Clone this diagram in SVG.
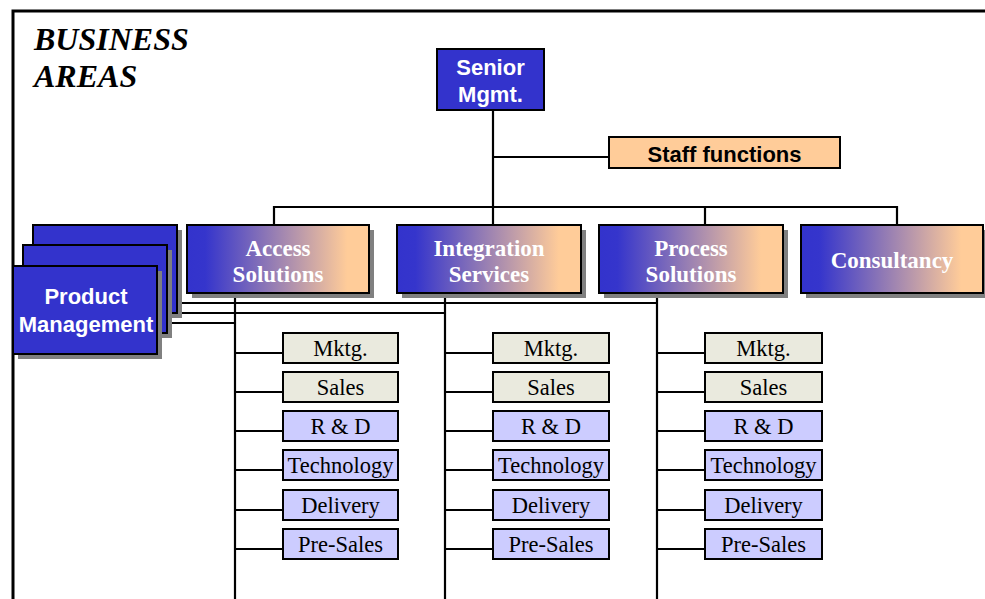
<svg xmlns="http://www.w3.org/2000/svg" width="985" height="599" viewBox="0 0 985 599">
<defs>
<linearGradient id="grad" x1="0" y1="0" x2="1" y2="0">
<stop offset="0" stop-color="#3333CC"/>
<stop offset="0.1" stop-color="#3535CC"/>
<stop offset="0.88" stop-color="#FFCC99"/>
<stop offset="1" stop-color="#FFCC99"/>
</linearGradient>
<style>
.ln{stroke:#000;stroke-width:2.2;fill:none}
.frame{stroke:#000;stroke-width:3;fill:none}
.bx{stroke:#000;stroke-width:2}
.sh{fill:#808080}
.blue{fill:#3333CC}
.gr{fill:url(#grad)}
.beige{fill:#EAEADE}
.lav{fill:#CCCCFF}
.orange{fill:#FFCC99}
.sans{font-family:"Liberation Sans",Arial,sans-serif;font-weight:bold;font-size:22px;text-anchor:middle}
.ser{font-family:"Liberation Serif","Times New Roman",serif;font-size:22.5px;text-anchor:middle;fill:#000}
.serb{font-family:"Liberation Serif","Times New Roman",serif;font-weight:bold;font-size:23px;text-anchor:middle;fill:#fff}
.title{font-family:"Liberation Serif","Times New Roman",serif;font-weight:bold;font-style:italic;font-size:32px;fill:#000}
</style>
</defs>
<rect width="985" height="599" fill="#fff"/>
<g id="frame">
<path class="frame" d="M13,599 V11 H985"/>
</g>
<g id="title">
<text class="title" x="34" y="50">BUSINESS</text>
<text class="title" x="34" y="87">AREAS</text>
</g>
<g id="connectors">
<path class="ln" d="M493,110 V225"/>
<path class="ln" d="M493,157 H609"/>
<path class="ln" d="M274,225 V207 H897 V225"/>
<path class="ln" d="M705,207 V225"/>
<path class="ln" d="M160,303 H657"/>
<path class="ln" d="M160,313 H445"/>
<path class="ln" d="M160,323 H235"/>
<path class="ln" d="M235,293 V599"/>
<path class="ln" d="M445,293 V599"/>
<path class="ln" d="M657,293 V599"/>
<path class="ln" d="M235,353 H283 M235,392 H283 M235,431 H283 M235,470 H283 M235,510 H283 M235,549 H283"/>
<path class="ln" d="M445,353 H493 M445,392 H493 M445,431 H493 M445,470 H493 M445,510 H493 M445,549 H493"/>
<path class="ln" d="M657,353 H705 M657,392 H705 M657,431 H705 M657,470 H705 M657,510 H705 M657,549 H705"/>
</g>
<g id="senior">
<rect class="bx blue" x="437" y="49" width="107" height="61"/>
<text class="sans" x="490.5" y="75" fill="#fff">Senior</text>
<text class="sans" x="490.5" y="102" fill="#fff">Mgmt.</text>
</g>
<g id="staff">
<rect class="bx orange" x="609" y="137" width="231" height="31"/>
<text class="sans" x="724.5" y="162" fill="#000">Staff functions</text>
</g>
<g id="pm-back">
<rect class="sh" x="38" y="230" width="144" height="88"/>
<rect class="bx blue" x="33" y="225" width="144" height="88"/>
</g>
<g id="pm-middle">
<rect class="sh" x="28" y="250" width="144" height="88"/>
<rect class="bx blue" x="23" y="245" width="144" height="88"/>
</g>
<g id="pm-front">
<rect class="sh" x="18" y="271" width="144" height="88"/>
<rect class="bx blue" x="13" y="266" width="144" height="88"/>
<text class="sans" x="86" y="304" fill="#fff">Product</text>
<text class="sans" x="86" y="332" fill="#fff">Management</text>
</g>
<g id="access">
<rect class="sh" x="192" y="230" width="182" height="68"/>
<rect class="bx gr" x="187" y="225" width="182" height="68"/>
<text class="serb" x="278" y="256">Access</text>
<text class="serb" x="278" y="282">Solutions</text>
</g>
<g id="integration">
<rect class="sh" x="402" y="230" width="184" height="68"/>
<rect class="bx gr" x="397" y="225" width="184" height="68"/>
<text class="serb" x="489" y="256">Integration</text>
<text class="serb" x="489" y="282">Services</text>
</g>
<g id="process">
<rect class="sh" x="604" y="230" width="184" height="68"/>
<rect class="bx gr" x="599" y="225" width="184" height="68"/>
<text class="serb" x="691" y="256">Process</text>
<text class="serb" x="691" y="282">Solutions</text>
</g>
<g id="consultancy">
<rect class="sh" x="806" y="230" width="182" height="68"/>
<rect class="bx gr" x="801" y="225" width="182" height="68"/>
<text class="serb" x="892" y="268">Consultancy</text>
</g>
<g id="access-units">
<g id="a-mktg"><rect class="bx beige" x="283" y="333" width="115" height="30"/><text class="ser" x="340.5" y="356">Mktg.</text></g>
<g id="a-sales"><rect class="bx beige" x="283" y="372" width="115" height="30"/><text class="ser" x="340.5" y="395">Sales</text></g>
<g id="a-rd"><rect class="bx lav" x="283" y="411" width="115" height="30"/><text class="ser" x="340.5" y="434">R &amp; D</text></g>
<g id="a-tech"><rect class="bx lav" x="283" y="450" width="115" height="30"/><text class="ser" x="340.5" y="473">Technology</text></g>
<g id="a-del"><rect class="bx lav" x="283" y="490" width="115" height="30"/><text class="ser" x="340.5" y="513">Delivery</text></g>
<g id="a-pre"><rect class="bx lav" x="283" y="529" width="115" height="30"/><text class="ser" x="340.5" y="552">Pre-Sales</text></g>
</g>
<g id="integration-units">
<g id="i-mktg"><rect class="bx beige" x="493" y="333" width="116" height="30"/><text class="ser" x="551" y="356">Mktg.</text></g>
<g id="i-sales"><rect class="bx beige" x="493" y="372" width="116" height="30"/><text class="ser" x="551" y="395">Sales</text></g>
<g id="i-rd"><rect class="bx lav" x="493" y="411" width="116" height="30"/><text class="ser" x="551" y="434">R &amp; D</text></g>
<g id="i-tech"><rect class="bx lav" x="493" y="450" width="116" height="30"/><text class="ser" x="551" y="473">Technology</text></g>
<g id="i-del"><rect class="bx lav" x="493" y="490" width="116" height="30"/><text class="ser" x="551" y="513">Delivery</text></g>
<g id="i-pre"><rect class="bx lav" x="493" y="529" width="116" height="30"/><text class="ser" x="551" y="552">Pre-Sales</text></g>
</g>
<g id="process-units">
<g id="p-mktg"><rect class="bx beige" x="705" y="333" width="117" height="30"/><text class="ser" x="763.5" y="356">Mktg.</text></g>
<g id="p-sales"><rect class="bx beige" x="705" y="372" width="117" height="30"/><text class="ser" x="763.5" y="395">Sales</text></g>
<g id="p-rd"><rect class="bx lav" x="705" y="411" width="117" height="30"/><text class="ser" x="763.5" y="434">R &amp; D</text></g>
<g id="p-tech"><rect class="bx lav" x="705" y="450" width="117" height="30"/><text class="ser" x="763.5" y="473">Technology</text></g>
<g id="p-del"><rect class="bx lav" x="705" y="490" width="117" height="30"/><text class="ser" x="763.5" y="513">Delivery</text></g>
<g id="p-pre"><rect class="bx lav" x="705" y="529" width="117" height="30"/><text class="ser" x="763.5" y="552">Pre-Sales</text></g>
</g>
</svg>
